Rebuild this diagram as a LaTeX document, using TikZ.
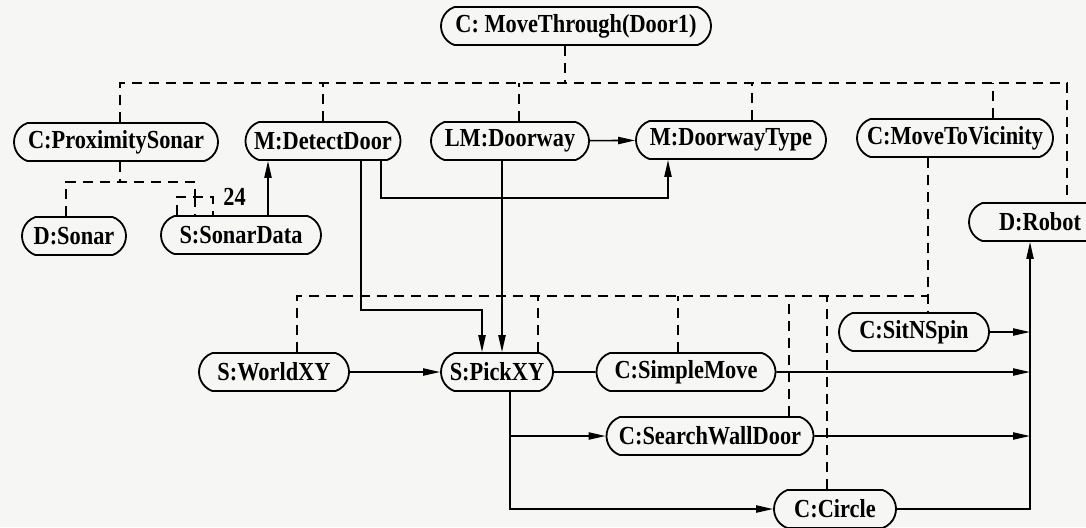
\documentclass[tikz,border=0pt]{standalone}
\usepackage{fontspec}
\setmainfont{Liberation Serif}
\newfontfamily\lblfont[FakeStretch=0.86]{Liberation Serif}
\usepackage{tikz}
\usetikzlibrary{calc, positioning, arrows.meta, shapes.misc}
\definecolor{paper}{RGB}{246, 246, 244}

\begin{document}
\begin{tikzpicture}[x=0.5pt, y=-0.5pt, >={Triangle[length=8.5pt, width=3.6pt]},
    blk/.style={draw, line width=0.9pt, rounded rectangle, rounded rectangle arc length=140,
      minimum height=19pt, inner xsep=2pt, font=\lblfont\bfseries\fontsize{13}{15}\selectfont},
    dsh/.style={line width=0.8pt, dash pattern=on 5pt off 3.5pt},
    arr/.style={->, line width=0.8pt},
    lbl/.style={font=\lblfont\bfseries\fontsize{13}{15}\selectfont, inner sep=2pt}]
  \useasboundingbox (0,0) rectangle (1086,527);
  \fill[paper] (0,0) rectangle (1086,527);
  \clip (0,0) rectangle (1086,527);

  % behaviours and sensors
  \node[blk, minimum width=139pt] (mt) at (576,26) {C: MoveThrough(Door1)};
  \node[blk, minimum width=106pt] (ps) at (116,142) {C:ProximitySonar};
  \node[blk, minimum width=81.5pt] (dd) at (323,141) {M:DetectDoor};
  \node[blk, minimum width=83pt] (lm) at (510,141) {LM:Doorway};
  \node[blk, minimum width=99pt] (dt) at (731,140) {M:DoorwayType};
  \node[blk, minimum width=102pt] (mv) at (955,138) {C:MoveToVicinity};
  \node[blk, minimum width=56pt] (so) at (74,236) {D:Sonar};
  \node[blk, minimum width=84pt] (sd) at (241,235) {S:SonarData};
  \node[blk, minimum width=75pt] (rb) at (1040,222) {D:Robot};
  \node[blk, minimum width=79pt] (sn) at (914,332) {C:SitNSpin};
  \node[blk, minimum width=79pt] (wx) at (274,372) {S:WorldXY};
  \node[blk, minimum width=60pt] (px) at (497,372) {S:PickXY};
  \node[blk, minimum width=93.5pt] (sm) at (686,372) {C:SimpleMove};
  \node[blk, minimum width=107.5pt] (sw) at (710,436) {C:SearchWallDoor};
  \node[blk, minimum width=65pt] (ci) at (835,509) {C:Circle};

  % top level decomposition
  \draw[dsh] ($(mt.south)+(-11,0)$) -- ++(0,37) coordinate (b1);
  \draw[dsh] ($(ps.north)+(4,0)$) |- (b1) -| ($(rb.north)+(27,0)$);
  \foreach \n/\dx in {dd/0, lm/9, dt/21, mv/38} {
    \coordinate (q) at ($(\n.north)+(\dx,0)$);
    \draw[dsh] (q) -- (q |- b1);
  }

  % sonar group
  \draw[dsh] ($(ps.south)+(4,0)$) -- ++(0,20) coordinate (b2);
  \coordinate (b3) at ($(sd.north)+(-46,-18)$);
  \draw[dsh] ($(so.north)+(-8,0)$) |- (b2) -| (b3);
  \draw[dsh] ($(sd.north)+(-64,0)$) |- (b3) -| ($(sd.north)+(-28,0)$);
  \draw[dsh] (b3) -- (b3 |- sd.north);
  \node[lbl, anchor=west] (cnt) at ($(b3)+(24,0)$) {24};

  % move to vicinity group
  \draw[dsh] ($(mv.south)+(-27,0)$) coordinate (m1) -- (m1 |- sn.north);
  \coordinate (b4) at ($(m1 |- sn.north)+(0,-16)$);
  \draw[dsh] ($(wx.north)+(23,0)$) |- (b4);
  \foreach \n/\dx in {px/41, sm/-8, sw/79, ci/-8} {
    \coordinate (q) at ($(\n.north)+(\dx,0)$);
    \draw[dsh] (q) -- (q |- b4);
  }

  % data flow
  \draw[arr] ($(sd.north)+(27,0)$) coordinate (q) -- (q |- dd.south);
  \draw[arr] ($(dd.south)+(38,0)$) -- ++(0,149) -| ($(px.north)+(-15,0)$);
  \draw[arr] ($(dd.south)+(58,0)$) -- ++(0,37) -| ($(dt.south)+(-63,0)$);
  \draw[arr] (lm) -- (dt);
  \draw[arr] ($(lm.south)+(-8,0)$) coordinate (q) -- (q |- px.north);
  \draw[arr] (wx) -- (px);
  \draw[line width=0.8pt] (px) -- (sm);
  \draw[arr] ($(px.south)+(13,0)$) |- (sw);
  \draw[arr] ($(px.south)+(13,0)$) |- (ci);

  % commands to the robot
  \coordinate (rbus) at ($(rb.south)+(-10,0)$);
  \draw[arr] (ci) -| (rbus);
  \foreach \n in {sn, sm, sw}
    \draw[arr] (\n) -- (\n -| rbus);
\end{tikzpicture}
\end{document}
